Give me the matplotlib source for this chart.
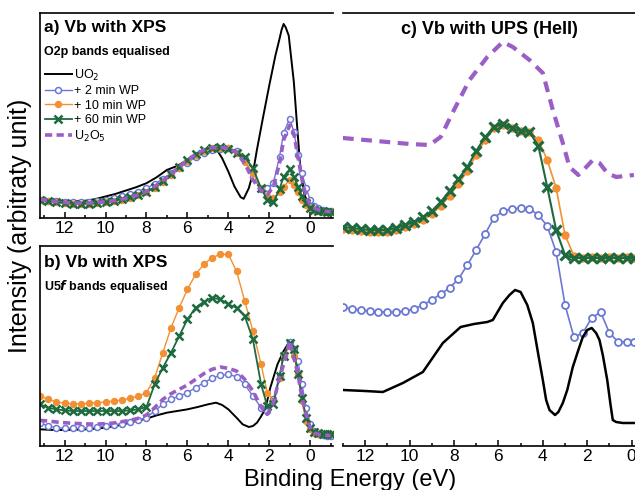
import numpy as np
import matplotlib
matplotlib.use("Agg")
import matplotlib.pyplot as plt
from matplotlib.ticker import MultipleLocator

plt.rcParams['font.family'] = ['Liberation Sans', 'DejaVu Sans']

# ---------------- colours ----------------
c_uo2 = '#000000'
c_2 = '#6a78d4'
c_10 = '#f39032'
c_60 = '#1d6a3e'
c_u2o5 = '#9a5ec6'

labels = ['UO$_2$', '+ 2 min WP', '+ 10 min WP', '+ 60 min WP', 'U$_2$O$_5$']

# ---------------- panel a : O2p bands equalised ----------------
E_a = [13.2, 12.8, 12.4, 12.0, 11.6, 11.2, 10.8, 10.4, 10.0, 9.6, 9.2, 8.8, 8.4,
       8.0, 7.6, 7.2, 6.8, 6.4, 6.0, 5.6, 5.2, 4.8, 4.4, 4.0, 3.6, 3.2, 2.8, 2.4,
       2.1, 1.8, 1.5, 1.3, 1.0, 0.8, 0.6, 0.4, 0.2, 0.0, -0.2, -0.4, -0.6, -0.8, -1.0]

E_a_uo2 = [13.2, 12.5, 12.0, 11.5, 11.0, 10.5, 10.0, 9.5, 9.0, 8.5, 8.0, 7.5, 7.0,
           6.5, 6.0, 5.5, 5.0, 4.6, 4.3, 4.0, 3.7, 3.4, 3.25, 3.0, 2.8, 2.6, 2.3,
           2.0, 1.7, 1.5, 1.4, 1.3, 1.2, 1.05, 0.8, 0.65, 0.5, 0.3, 0.1, -0.1,
           -0.4, -0.7, -1.0]
a_uo2 = [55, 52, 50, 50, 52, 57, 65, 73, 83, 93, 105, 123, 145, 157, 175, 193,
         208, 210, 180, 140, 95, 63, 58, 90, 135, 207, 305, 400, 490, 540, 567,
         585, 575, 550, 410, 285, 165, 75, 40, 27, 22, 20, 20]
a_2 = [55, 52, 50, 49, 48, 48, 49, 52, 55, 59, 65, 72, 80, 90, 103, 118, 135,
       152, 167, 183, 195, 205, 209, 210, 203, 177, 123, 87, 90, 105, 185, 257,
       300, 260, 190, 135, 90, 55, 37, 30, 25, 22, 20]
a_10 = [53, 50, 47, 45, 43, 43, 43, 45, 47, 50, 55, 61, 69, 78, 92, 110, 130,
        152, 172, 190, 203, 211, 212, 210, 197, 170, 135, 90, 65, 60, 77, 95,
        115, 100, 77, 55, 40, 30, 25, 22, 20, 19, 19]
a_60 = [55, 51, 48, 45, 43, 43, 43, 45, 48, 52, 57, 63, 70, 79, 93, 112, 132,
        155, 175, 192, 205, 212, 213, 209, 197, 185, 150, 90, 55, 47, 87, 125,
        147, 125, 95, 65, 45, 30, 25, 22, 20, 19, 19]
a_u2o5 = [57, 53, 49, 47, 45, 45, 45, 47, 49, 52, 57, 63, 70, 80, 95, 113, 133,
          155, 175, 192, 205, 212, 213, 210, 197, 165, 115, 83, 70, 95, 165, 235,
          280, 255, 185, 115, 65, 40, 30, 25, 22, 20, 19]

# ---------------- panel b : U5f bands equalised ----------------
E_b = E_a
E_b_uo2 = [13.2, 12.5, 12.0, 11.5, 11.0, 10.5, 10.0, 9.5, 9.0, 8.5, 8.0, 7.5, 7.0,
           6.5, 6.0, 5.5, 5.0, 4.6, 4.3, 4.0, 3.6, 3.3, 3.0, 2.8, 2.6, 2.44, 2.2,
           1.95, 1.6, 1.3, 1.0, 0.8, 0.6, 0.4, 0.2, 0.0, -0.3, -0.6, -1.0]
b_uo2 = [50, 48, 48, 49, 50, 52, 55, 60, 67, 75, 82, 92, 100, 105, 110, 117, 125,
         130, 123, 110, 85, 65, 57, 60, 70, 85, 110, 175, 245, 285, 315, 285, 225,
         155, 95, 55, 35, 30, 30]
b_2 = [70, 60, 55, 53, 53, 53, 55, 57, 59, 63, 67, 72, 77, 85, 105, 125, 140, 150,
       160, 175, 190, 203, 212, 215, 208, 185, 150, 115, 105, 140, 210, 273, 313,
       290, 255, 185, 115, 65, 45, 37, 33, 31, 30]
b_10 = [150, 140, 133, 128, 127, 127, 128, 130, 132, 135, 138, 143, 150, 160, 205,
        280, 355, 415, 470, 515, 545, 565, 575, 575, 525, 435, 345, 245, 160, 135,
        205, 270, 300, 270, 215, 135, 75, 50, 40, 37, 35, 35, 35]
b_60 = [125, 115, 110, 107, 105, 105, 105, 105, 105, 105, 105, 107, 110, 117,
        185, 235, 280, 330, 380, 415, 433, 445, 440, 425, 415, 390, 320, 185, 120,
        125, 210, 270, 310, 290, 215, 145, 85, 55, 43, 38, 35, 35, 35]
b_u2o5 = [77, 75, 72, 70, 68, 67, 66, 66, 67, 69, 73, 77, 83, 93, 115, 140, 157,
          170, 183, 200, 217, 230, 237, 233, 225, 200, 165, 117, 95, 130, 205, 245,
          315, 265, 215, 145, 95, 55, 40, 35, 33, 32, 31]

# ---------------- panel c : UPS (HeII) ----------------
E_c = [13.0, 12.6, 12.2, 11.8, 11.4, 11.0, 10.6, 10.2, 9.8, 9.4, 9.0, 8.6, 8.2,
       7.8, 7.4, 7.0, 6.6, 6.2, 5.8, 5.4, 5.0, 4.6, 4.2, 3.8, 3.4, 3.0, 2.6, 2.2,
       1.8, 1.4, 1.0, 0.6, 0.2, -0.1]
c_60_vals = [219, 218, 217, 216, 216, 216, 218, 221, 224, 229, 235, 244, 255, 267,
             279, 295, 309, 319, 322, 318, 315, 314, 300, 259, 216, 191, 188, 188,
             188, 188, 188, 188, 188, 188]
c_10_vals = [217, 216, 215, 214, 214, 214, 216, 219, 222, 226, 232, 240, 250, 262,
             275, 291, 306, 318, 321, 318, 315, 314, 306, 286, 258, 211, 190, 188,
             189, 188, 189, 188, 189, 188]
c_2_vals = [139, 137, 136, 135, 134, 134, 134, 135, 137, 141, 146, 152, 158, 167,
            181, 196, 212, 228, 235, 237, 238, 237, 231, 220, 194, 141, 109, 113,
            128, 134, 113, 104, 104, 104]
E_c_uo2 = [13.0, 12.0, 11.2, 10.3, 9.4, 8.5, 7.7, 7.1, 6.5, 6.25, 5.8, 5.5, 5.25,
           5.0, 4.7, 4.45, 4.2, 4.0, 3.85, 3.7, 3.45, 3.3, 3.1, 2.9, 2.65, 2.4,
           2.2, 2.0, 1.8, 1.6, 1.45, 1.3, 1.1, 0.95, 0.85, 0.7, 0.4, -0.1]
c_uo2_vals = [56, 55, 54, 63, 74, 103, 119, 122, 124, 126, 143, 151, 156, 154,
              141, 123, 91, 66, 46, 36, 31, 34, 43, 56, 79, 96, 109, 116, 118, 113,
              106, 91, 66, 41, 26, 24, 23, 23]
E_c_u2o5 = [13.0, 12.0, 11.0, 10.0, 9.1, 8.6, 8.0, 7.3, 6.5, 5.8, 5.35, 4.6, 4.0,
            3.55, 3.1, 2.8, 2.4, 2.0, 1.75, 1.45, 1.1, 0.7, -0.1]
c_u2o5_vals = [308, 306, 304, 302, 301, 309, 336, 366, 389, 404, 399, 386, 373,
               336, 303, 279, 271, 280, 286, 283, 273, 269, 271]

# ---------------- figure ----------------
fig = plt.figure(figsize=(6.35, 4.9), dpi=100)
ax_a = fig.add_axes([0.063, 0.555, 0.461, 0.4185])
ax_b = fig.add_axes([0.063, 0.0898, 0.461, 0.408])
ax_c = fig.add_axes([0.540, 0.0898, 0.46, 0.8837])


def style(ax, xlim, ylim, left=True):
    ax.set_xlim(*xlim)
    ax.set_ylim(*ylim)
    ax.spines['right'].set_visible(False)
    ax.spines['left'].set_visible(left)
    for s in ax.spines.values():
        s.set_linewidth(1.2)
    ax.xaxis.set_major_locator(MultipleLocator(2))
    ax.xaxis.set_minor_locator(MultipleLocator(1))
    ax.tick_params(axis='x', which='both', direction='in', labelsize=12.5, pad=2,
                   width=1.1)
    ax.tick_params(axis='x', which='major', length=4.5)
    ax.tick_params(axis='x', which='minor', length=2.5)
    ax.set_yticks([])


def panel_xps(ax, E_u, uo2, E, s2, s10, s60, su):
    ax.plot(E_u, uo2, color=c_uo2, lw=1.4, label=labels[0])
    ax.plot(E, s2, color=c_2, lw=1, marker='o', ms=4.3, mfc='white', mec=c_2,
            mew=1.1, label=labels[1])
    ax.plot(E, s10, color=c_10, lw=1, marker='o', ms=4.3, mfc=c_10, mec=c_10,
            label=labels[2])
    ax.plot(E, s60, color=c_60, lw=1.3, marker='x', ms=6, mew=1.8, label=labels[3])
    ax.plot(E, su, color=c_u2o5, lw=2.6, ls=(0, (2.0, 1.2)), label=labels[4])


panel_xps(ax_a, E_a_uo2, a_uo2, E_a, a_2, a_10, a_60, a_u2o5)
style(ax_a, (13.2, -1.1), (0, 618))
ax_a.text(0.015, 0.93, 'a) Vb with XPS', transform=ax_a.transAxes, fontsize=12.5,
          fontweight='bold', va='center')
ax_a.text(0.015, 0.81, 'O2p bands equalised', transform=ax_a.transAxes,
          fontsize=9, fontweight='bold', va='center')
leg = ax_a.legend(loc='upper left', bbox_to_anchor=(-0.01, 0.77), frameon=False,
                  fontsize=9, handlelength=2.2, handletextpad=0.15,
                  labelspacing=0.2, borderaxespad=0.2)

panel_xps(ax_b, E_b_uo2, b_uo2, E_b, b_2, b_10, b_60, b_u2o5)
style(ax_b, (13.2, -1.1), (0, 600))
ax_b.text(0.015, 0.92, 'b) Vb with XPS', transform=ax_b.transAxes, fontsize=12.5,
          fontweight='bold', va='center')
ax_b.text(0.015, 0.8, 'U5$\\mathbfit{f}$ bands equalised', transform=ax_b.transAxes,
          fontsize=9, fontweight='bold', va='center')

ax_c.plot(E_c_u2o5, c_u2o5_vals, color=c_u2o5, lw=3, ls=(0, (2.6, 1.8)))
ax_c.plot(E_c, c_10_vals, color=c_10, lw=1.2, marker='o', ms=5, mfc=c_10, mec=c_10)
ax_c.plot(E_c, c_60_vals, color=c_60, lw=1.5, marker='x', ms=7, mew=2.2)
ax_c.plot(E_c, c_2_vals, color=c_2, lw=1.2, marker='o', ms=5, mfc='white',
          mec=c_2, mew=1.3)
ax_c.plot(E_c_uo2, c_uo2_vals, color=c_uo2, lw=1.8)
style(ax_c, (13.0, -0.15), (0, 433), left=False)
ax_c.text(0.5, 0.962, 'c) Vb with UPS (HeII)', transform=ax_c.transAxes,
          fontsize=13, fontweight='bold', ha='center', va='center')

fig.text(0.032, 0.54, 'Intensity (arbitraty unit)', rotation=90, fontsize=18,
         ha='center', va='center')
fig.text(0.551, 0.0082, 'Binding Energy (eV)', fontsize=17, ha='center',
         va='baseline')

fig.savefig('out.png', dpi=100)
